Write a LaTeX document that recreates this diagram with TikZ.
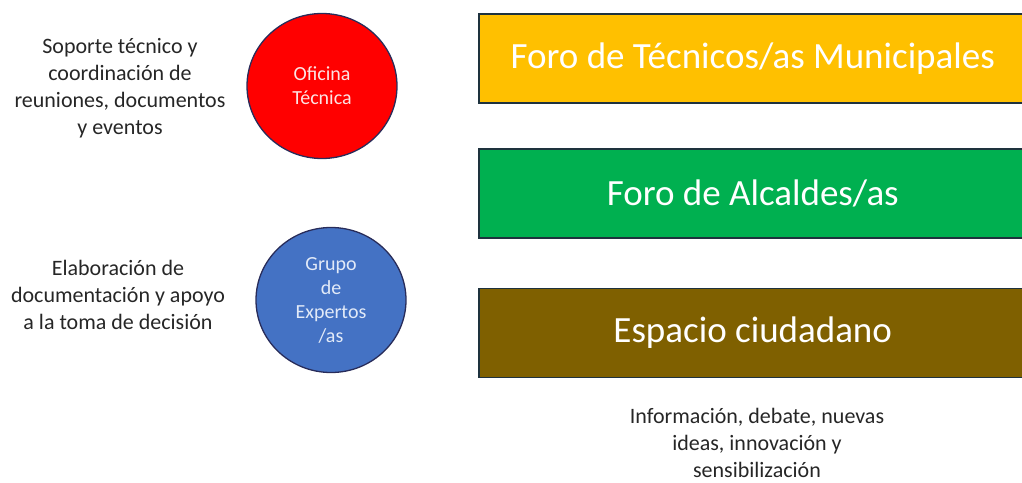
\documentclass[tikz,border=0pt]{standalone}
\usepackage{fontspec}
\setmainfont{Carlito}
\usetikzlibrary{shapes.geometric}

\definecolor{forotec}{RGB}{255,192,0}
\definecolor{foroalc}{RGB}{0,176,80}
\definecolor{espacio}{RGB}{127,96,0}
\definecolor{ofired}{RGB}{255,0,0}
\definecolor{expblue}{RGB}{68,114,196}
\definecolor{boxline}{RGB}{30,50,62}
\definecolor{ringline}{RGB}{40,44,90}
\definecolor{notetext}{RGB}{38,38,38}

\begin{document}
\begin{tikzpicture}[x=1pt,y=-1pt,
  organo/.style={ellipse, draw=ringline, line width=1.3pt, minimum width=150pt, minimum height=145pt, inner sep=0pt, align=center, font=\fontsize{20}{24}\selectfont},
  foro/.style={rectangle, draw=boxline, line width=1.5pt, minimum width=548pt, minimum height=89pt, anchor=west, text=white, font=\fontsize{37}{40}\selectfont},
  nota/.style={align=center, text=notetext, font=\fontsize{22}{27}\selectfont}]
\clip (0,0) rectangle (1022,482);
% organos de apoyo
\node[organo, fill=ofired, text={rgb,255:red,252;green,228;blue,228}] (ofitec) at (322,86) {Oficina\\Técnica};
\node[organo, fill=expblue, text={rgb,255:red,226;green,234;blue,248}] (expertos) at (331,300) {Grupo\\de\\Expertos\\/as};
\node[nota] (notaofi) at (120,88) {Soporte técnico y\\coordinación de\\reuniones, documentos\\y eventos};
\node[nota] (notaexp) at (118,295) {Elaboración de\\documentación y apoyo\\a la toma de decisión};
% foros
\node[foro, fill=forotec] (tecnicos) at (478,58.5) {Foro de Técnicos/as Municipales};
\node[foro, fill=foroalc] (alcaldes) at (478,193.5) {Foro de Alcaldes/as};
\node[foro, fill=espacio] (ciudadano) at (478,333) {Espacio ciudadano};
\node[nota] (notaesp) at (757,443) {Información, debate, nuevas\\ideas, innovación y\\sensibilización};
\end{tikzpicture}
\end{document}
